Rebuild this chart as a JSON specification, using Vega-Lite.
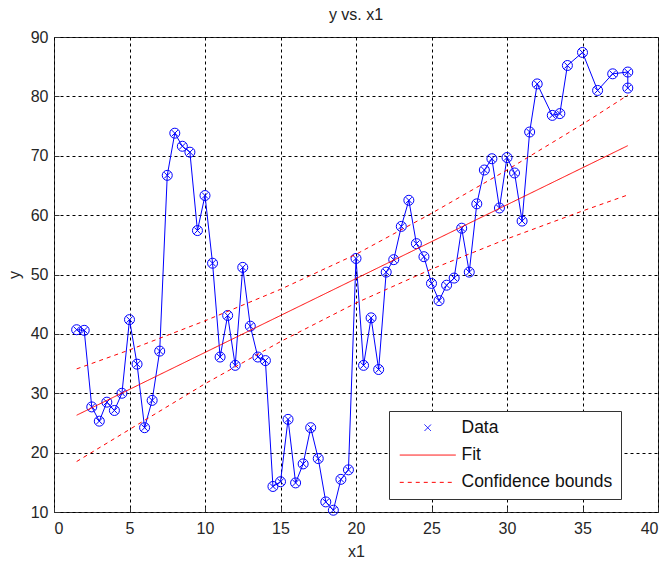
{
  "$schema": "https://vega.github.io/schema/vega-lite/v6.json",
  "width": 604,
  "height": 475,
  "autosize": {"type": "none"},
  "padding": {"left": 54, "top": 37, "right": 10, "bottom": 51},
  "background": "white",
  "title": {"text": "y vs. x1", "fontSize": 16, "font": "Liberation Sans", "fontWeight": "normal", "color": "#222", "anchor": "middle", "offset": 6},
  "config": {
    "view": {"stroke": "#333", "strokeWidth": 1},
    "axis": {
      "labelFont": "Liberation Sans", "labelFontSize": 16, "labelColor": "#262626",
      "titleFont": "Liberation Sans", "titleFontSize": 16, "titleFontWeight": "normal", "titleColor": "#262626",
      "grid": true, "gridColor": "#000", "gridDash": [3, 3], "gridOpacity": 1, "gridWidth": 1,
      "tickColor": "#333", "tickSize": -5, "tickWidth": 1, "domain": false
    },
    "legend": {
      "orient": "none", "legendX": 335, "legendY": 374, "padding": 8, "rowPadding": 8.3,
      "symbolOffset": 22, "labelOffset": 25, "labelFontSize": 17.5, "labelFont": "Liberation Sans",
      "labelColor": "#111", "strokeColor": "#333", "fillColor": "white", "symbolSize": 100,
      "symbolStrokeWidth": 1, "symbolFillColor": "transparent", "labelLimit": 300
    }
  },
  "datasets": {
    "obs": [
      {"i": 1, "x": 1.5, "y": 40.7, "series": "Data"},
      {"i": 2, "x": 2.0, "y": 40.6, "series": "Data"},
      {"i": 3, "x": 2.5, "y": 27.7, "series": "Data"},
      {"i": 4, "x": 3.0, "y": 25.3, "series": "Data"},
      {"i": 5, "x": 3.5, "y": 28.5, "series": "Data"},
      {"i": 6, "x": 4.0, "y": 27.1, "series": "Data"},
      {"i": 7, "x": 4.5, "y": 30.0, "series": "Data"},
      {"i": 8, "x": 5.0, "y": 42.4, "series": "Data"},
      {"i": 9, "x": 5.5, "y": 34.9, "series": "Data"},
      {"i": 10, "x": 6.0, "y": 24.2, "series": "Data"},
      {"i": 11, "x": 6.5, "y": 28.8, "series": "Data"},
      {"i": 12, "x": 7.0, "y": 37.1, "series": "Data"},
      {"i": 13, "x": 7.5, "y": 66.7, "series": "Data"},
      {"i": 14, "x": 8.0, "y": 73.8, "series": "Data"},
      {"i": 15, "x": 8.5, "y": 71.6, "series": "Data"},
      {"i": 16, "x": 9.0, "y": 70.6, "series": "Data"},
      {"i": 17, "x": 9.5, "y": 57.4, "series": "Data"},
      {"i": 18, "x": 10.0, "y": 63.3, "series": "Data"},
      {"i": 19, "x": 10.5, "y": 51.9, "series": "Data"},
      {"i": 20, "x": 11.0, "y": 36.1, "series": "Data"},
      {"i": 21, "x": 11.5, "y": 43.1, "series": "Data"},
      {"i": 22, "x": 12.0, "y": 34.7, "series": "Data"},
      {"i": 23, "x": 12.5, "y": 51.2, "series": "Data"},
      {"i": 24, "x": 13.0, "y": 41.3, "series": "Data"},
      {"i": 25, "x": 13.5, "y": 36.1, "series": "Data"},
      {"i": 26, "x": 14.0, "y": 35.5, "series": "Data"},
      {"i": 27, "x": 14.5, "y": 14.3, "series": "Data"},
      {"i": 28, "x": 15.0, "y": 15.1, "series": "Data"},
      {"i": 29, "x": 15.5, "y": 25.6, "series": "Data"},
      {"i": 30, "x": 16.0, "y": 14.9, "series": "Data"},
      {"i": 31, "x": 16.5, "y": 18.1, "series": "Data"},
      {"i": 32, "x": 17.0, "y": 24.2, "series": "Data"},
      {"i": 33, "x": 17.5, "y": 19.0, "series": "Data"},
      {"i": 34, "x": 18.0, "y": 11.7, "series": "Data"},
      {"i": 35, "x": 18.5, "y": 10.3, "series": "Data"},
      {"i": 36, "x": 19.0, "y": 15.5, "series": "Data"},
      {"i": 37, "x": 19.5, "y": 17.1, "series": "Data"},
      {"i": 38, "x": 20.0, "y": 52.7, "series": "Data"},
      {"i": 39, "x": 20.5, "y": 34.7, "series": "Data"},
      {"i": 40, "x": 21.0, "y": 42.7, "series": "Data"},
      {"i": 41, "x": 21.5, "y": 34.0, "series": "Data"},
      {"i": 42, "x": 22.0, "y": 50.4, "series": "Data"},
      {"i": 43, "x": 22.5, "y": 52.5, "series": "Data"},
      {"i": 44, "x": 23.0, "y": 58.1, "series": "Data"},
      {"i": 45, "x": 23.5, "y": 62.5, "series": "Data"},
      {"i": 46, "x": 24.0, "y": 55.2, "series": "Data"},
      {"i": 47, "x": 24.5, "y": 53.0, "series": "Data"},
      {"i": 48, "x": 25.0, "y": 48.5, "series": "Data"},
      {"i": 49, "x": 25.5, "y": 45.6, "series": "Data"},
      {"i": 50, "x": 26.0, "y": 48.2, "series": "Data"},
      {"i": 51, "x": 26.5, "y": 49.4, "series": "Data"},
      {"i": 52, "x": 27.0, "y": 57.8, "series": "Data"},
      {"i": 53, "x": 27.5, "y": 50.4, "series": "Data"},
      {"i": 54, "x": 28.0, "y": 61.9, "series": "Data"},
      {"i": 55, "x": 28.5, "y": 67.6, "series": "Data"},
      {"i": 56, "x": 29.0, "y": 69.5, "series": "Data"},
      {"i": 57, "x": 29.5, "y": 61.2, "series": "Data"},
      {"i": 58, "x": 30.0, "y": 69.7, "series": "Data"},
      {"i": 59, "x": 30.5, "y": 67.1, "series": "Data"},
      {"i": 60, "x": 31.0, "y": 59.0, "series": "Data"},
      {"i": 61, "x": 31.5, "y": 74.0, "series": "Data"},
      {"i": 62, "x": 32.0, "y": 82.1, "series": "Data"},
      {"i": 63, "x": 33.0, "y": 76.8, "series": "Data"},
      {"i": 64, "x": 33.5, "y": 77.1, "series": "Data"},
      {"i": 65, "x": 34.0, "y": 85.2, "series": "Data"},
      {"i": 66, "x": 35.0, "y": 87.4, "series": "Data"},
      {"i": 67, "x": 36.0, "y": 81.0, "series": "Data"},
      {"i": 68, "x": 37.0, "y": 83.8, "series": "Data"},
      {"i": 69, "x": 38.0, "y": 84.1, "series": "Data"},
      {"i": 70, "x": 38.0, "y": 81.4, "series": "Data"}
    ],
    "fit": [
      {"x": 1.5, "y": 26.3, "series": "Fit", "curve": "fit"},
      {"x": 38.0, "y": 71.7, "series": "Fit", "curve": "fit"},
      {"x": 1.5, "y": 34.1, "series": "Confidence bounds", "curve": "upper"},
      {"x": 5, "y": 37.3, "series": "Confidence bounds", "curve": "upper"},
      {"x": 10, "y": 42.2, "series": "Confidence bounds", "curve": "upper"},
      {"x": 15, "y": 47.5, "series": "Confidence bounds", "curve": "upper"},
      {"x": 20, "y": 53.4, "series": "Confidence bounds", "curve": "upper"},
      {"x": 25, "y": 60.3, "series": "Confidence bounds", "curve": "upper"},
      {"x": 30, "y": 67.6, "series": "Confidence bounds", "curve": "upper"},
      {"x": 35, "y": 75.3, "series": "Confidence bounds", "curve": "upper"},
      {"x": 38, "y": 80.2, "series": "Confidence bounds", "curve": "upper"},
      {"x": 1.5, "y": 18.5, "series": "Confidence bounds", "curve": "lower"},
      {"x": 5, "y": 23.9, "series": "Confidence bounds", "curve": "lower"},
      {"x": 10, "y": 31.6, "series": "Confidence bounds", "curve": "lower"},
      {"x": 15, "y": 38.7, "series": "Confidence bounds", "curve": "lower"},
      {"x": 20, "y": 45.2, "series": "Confidence bounds", "curve": "lower"},
      {"x": 25, "y": 50.9, "series": "Confidence bounds", "curve": "lower"},
      {"x": 30, "y": 56.0, "series": "Confidence bounds", "curve": "lower"},
      {"x": 35, "y": 60.7, "series": "Confidence bounds", "curve": "lower"},
      {"x": 38, "y": 63.4, "series": "Confidence bounds", "curve": "lower"}
    ]
  },
  "encoding": {
    "x": {"field": "x", "type": "quantitative",
      "scale": {"domain": [0, 40], "nice": false, "zero": false},
      "axis": {"values": [0, 5, 10, 15, 20, 25, 30, 35, 40], "labelPadding": 13, "title": "x1", "titlePadding": 7}},
    "y": {"field": "y", "type": "quantitative",
      "scale": {"domain": [10, 90], "nice": false, "zero": false},
      "axis": {"values": [10, 20, 30, 40, 50, 60, 70, 80, 90], "labelPadding": 11, "title": "y", "titlePadding": 8}}
  },
  "layer": [
    {
      "data": {"name": "obs"},
      "mark": {"type": "line", "color": "#0000ff", "strokeWidth": 1},
      "encoding": {"order": {"field": "i", "type": "quantitative"}}
    },
    {
      "data": {"name": "obs"},
      "mark": {"type": "point", "shape": "circle", "size": 100, "filled": false, "color": "#0000ff", "strokeWidth": 1, "opacity": 1}
    },
    {
      "data": {"name": "obs"},
      "mark": {"type": "point", "size": 90, "filled": false, "strokeWidth": 1, "opacity": 1},
      "encoding": {
        "shape": {"field": "series", "type": "nominal",
          "scale": {"domain": ["Data", "Fit", "Confidence bounds"], "range": ["M-0.65,-0.65L0.65,0.65M-0.65,0.65L0.65,-0.65", "M-5.6,0L5.6,0", "M-5.6,0L5.6,0"]},
          "legend": {"title": null}},
        "color": {"field": "series", "type": "nominal",
          "scale": {"domain": ["Data", "Fit", "Confidence bounds"], "range": ["#0000ff", "#ff0000", "#ff0000"]},
          "legend": {"title": null}}
      }
    },
    {
      "data": {"name": "fit"},
      "mark": {"type": "line", "strokeWidth": 1},
      "encoding": {
        "detail": {"field": "curve", "type": "nominal"},
        "color": {"field": "series", "type": "nominal",
          "scale": {"domain": ["Data", "Fit", "Confidence bounds"], "range": ["#0000ff", "#ff0000", "#ff0000"]},
          "legend": {"title": null}},
        "strokeDash": {"field": "series", "type": "nominal",
          "scale": {"domain": ["Data", "Fit", "Confidence bounds"], "range": [[1, 0], [1, 0], [4, 4]]},
          "legend": {"title": null}}
      }
    }
  ]
}
